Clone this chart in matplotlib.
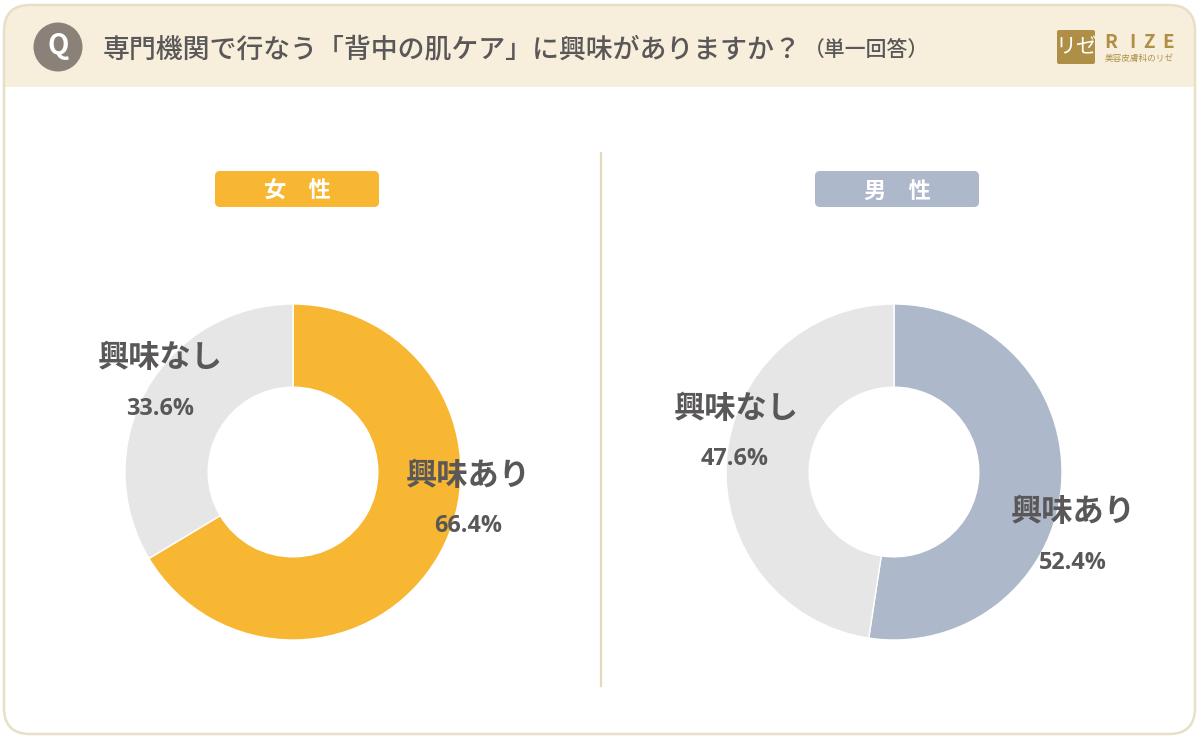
import matplotlib
matplotlib.use('Agg')
import matplotlib.pyplot as plt
from matplotlib.patches import FancyBboxPatch, Rectangle, Circle

plt.rcParams['font.family'] = ['Noto Sans CJK JP', 'DejaVu Sans']

# data
title = '専門機関で行なう「背中の肌ケア」に興味がありますか？'
subtitle = '（単一回答）'
groups = ['女　性', '男　性']
labels = ['興味あり', '興味なし']
women = [66.4, 33.6]
men = [52.4, 47.6]

W, H = 1200, 740
ORANGE = '#F7B733'
BLUE = '#ADB8CA'
GREY = '#E6E6E6'
TEXT = '#595757'
BORDER = '#E8DFC8'
HEADER = '#F7EEDC'
GOLD = '#AE8F45'

fig = plt.figure(figsize=(W / 100, H / 100), dpi=100, facecolor='white')

# background axes in pixel coordinates
bg = fig.add_axes([0, 0, 1, 1])
bg.set_xlim(0, W)
bg.set_ylim(H, 0)
bg.axis('off')

# panel + header
panel = FancyBboxPatch((4, 5), 1191, 729, boxstyle='round,pad=0,rounding_size=26',
                       fc='white', ec='none', zorder=1)
bg.add_patch(panel)
head = Rectangle((0, 0), W, 87, fc=HEADER, ec='none', zorder=2)
bg.add_patch(head)
head.set_clip_path(panel)
bg.add_patch(FancyBboxPatch((4, 5), 1191, 729, boxstyle='round,pad=0,rounding_size=26',
                            fc='none', ec=BORDER, lw=1.8, zorder=3))

# Q badge
bg.add_patch(Circle((58, 47), 24.5, fc='#8A8178', ec='none', zorder=4))
bg.text(58, 46, 'Q', color='white', fontsize=20, fontweight='bold', ha='center', va='center', zorder=5)

bg.text(103, 50, title, color=TEXT, fontsize=19.4, fontweight='medium', ha='left', va='center', zorder=5)
bg.text(804, 50, subtitle, color=TEXT, fontsize=15, fontweight='medium', ha='left', va='center', zorder=5)

# logo
bg.add_patch(FancyBboxPatch((1057, 30), 38, 34, boxstyle='round,pad=0,rounding_size=2',
                            fc=GOLD, ec='none', zorder=4))
bg.text(1076, 47.5, 'リゼ', color='white', fontsize=15, ha='center', va='center', zorder=5)
for ch, x in zip('RIZE', [1111, 1132, 1149, 1168]):
    bg.text(x, 43, ch, color=GOLD, fontsize=13.5, fontweight='bold', ha='center', va='center', zorder=5)
bg.text(1139, 58.5, '美容皮膚科のリゼ', color=GOLD, fontsize=6.2, ha='center', va='center', zorder=5)

# divider
bg.plot([601, 601], [153, 686], color='#E3D9BE', lw=1.6, zorder=2)

# group tags
for name, x, col in zip(groups, [297, 897], [ORANGE, BLUE]):
    bg.add_patch(FancyBboxPatch((x - 82, 171), 164, 36, boxstyle='round,pad=0,rounding_size=5',
                                fc=col, ec='none', zorder=4))
    bg.text(x, 191, name, color='white', fontsize=16, fontweight='bold', ha='center', va='center', zorder=5)


def donut(cx, cy, r, values, col):
    ax = fig.add_axes([(cx - r) / W, (H - cy - r) / H, 2 * r / W, 2 * r / H])
    ax.pie(values, colors=[col, GREY], startangle=90, counterclock=False, radius=1,
           wedgeprops=dict(width=0.495, edgecolor='white', linewidth=1))
    ax.set_xlim(-1, 1)
    ax.set_ylim(-1, 1)
    for p in ax.patches:
        p.set_clip_on(False)
    ax.patch.set_alpha(0)
    return ax


donut(293, 472, 168, women, ORANGE)
donut(894, 472, 168, men, BLUE)

# labels on top of everything
fg = fig.add_axes([0, 0, 1, 1])
fg.set_xlim(0, W)
fg.set_ylim(H, 0)
fg.axis('off')

label_pos = [(468, 476), (160, 358), (1073, 512), (736, 409)]
value_pos = [(468, 526), (160, 409), (1073, 563), (735, 459)]
values = women + men
names = labels + labels
for (lx, ly), (vx, vy), name, v in zip(label_pos, value_pos, names, values):
    fg.text(lx, ly, name, color=TEXT, fontsize=22.5, fontweight='bold', ha='center', va='center')
    fg.text(vx, vy, '%.1f%%' % v, color=TEXT, fontsize=16.8, fontweight='bold', ha='center', va='center',
            family=['Open Sans', 'DejaVu Sans'])

fig.savefig('out.png', dpi=100)
